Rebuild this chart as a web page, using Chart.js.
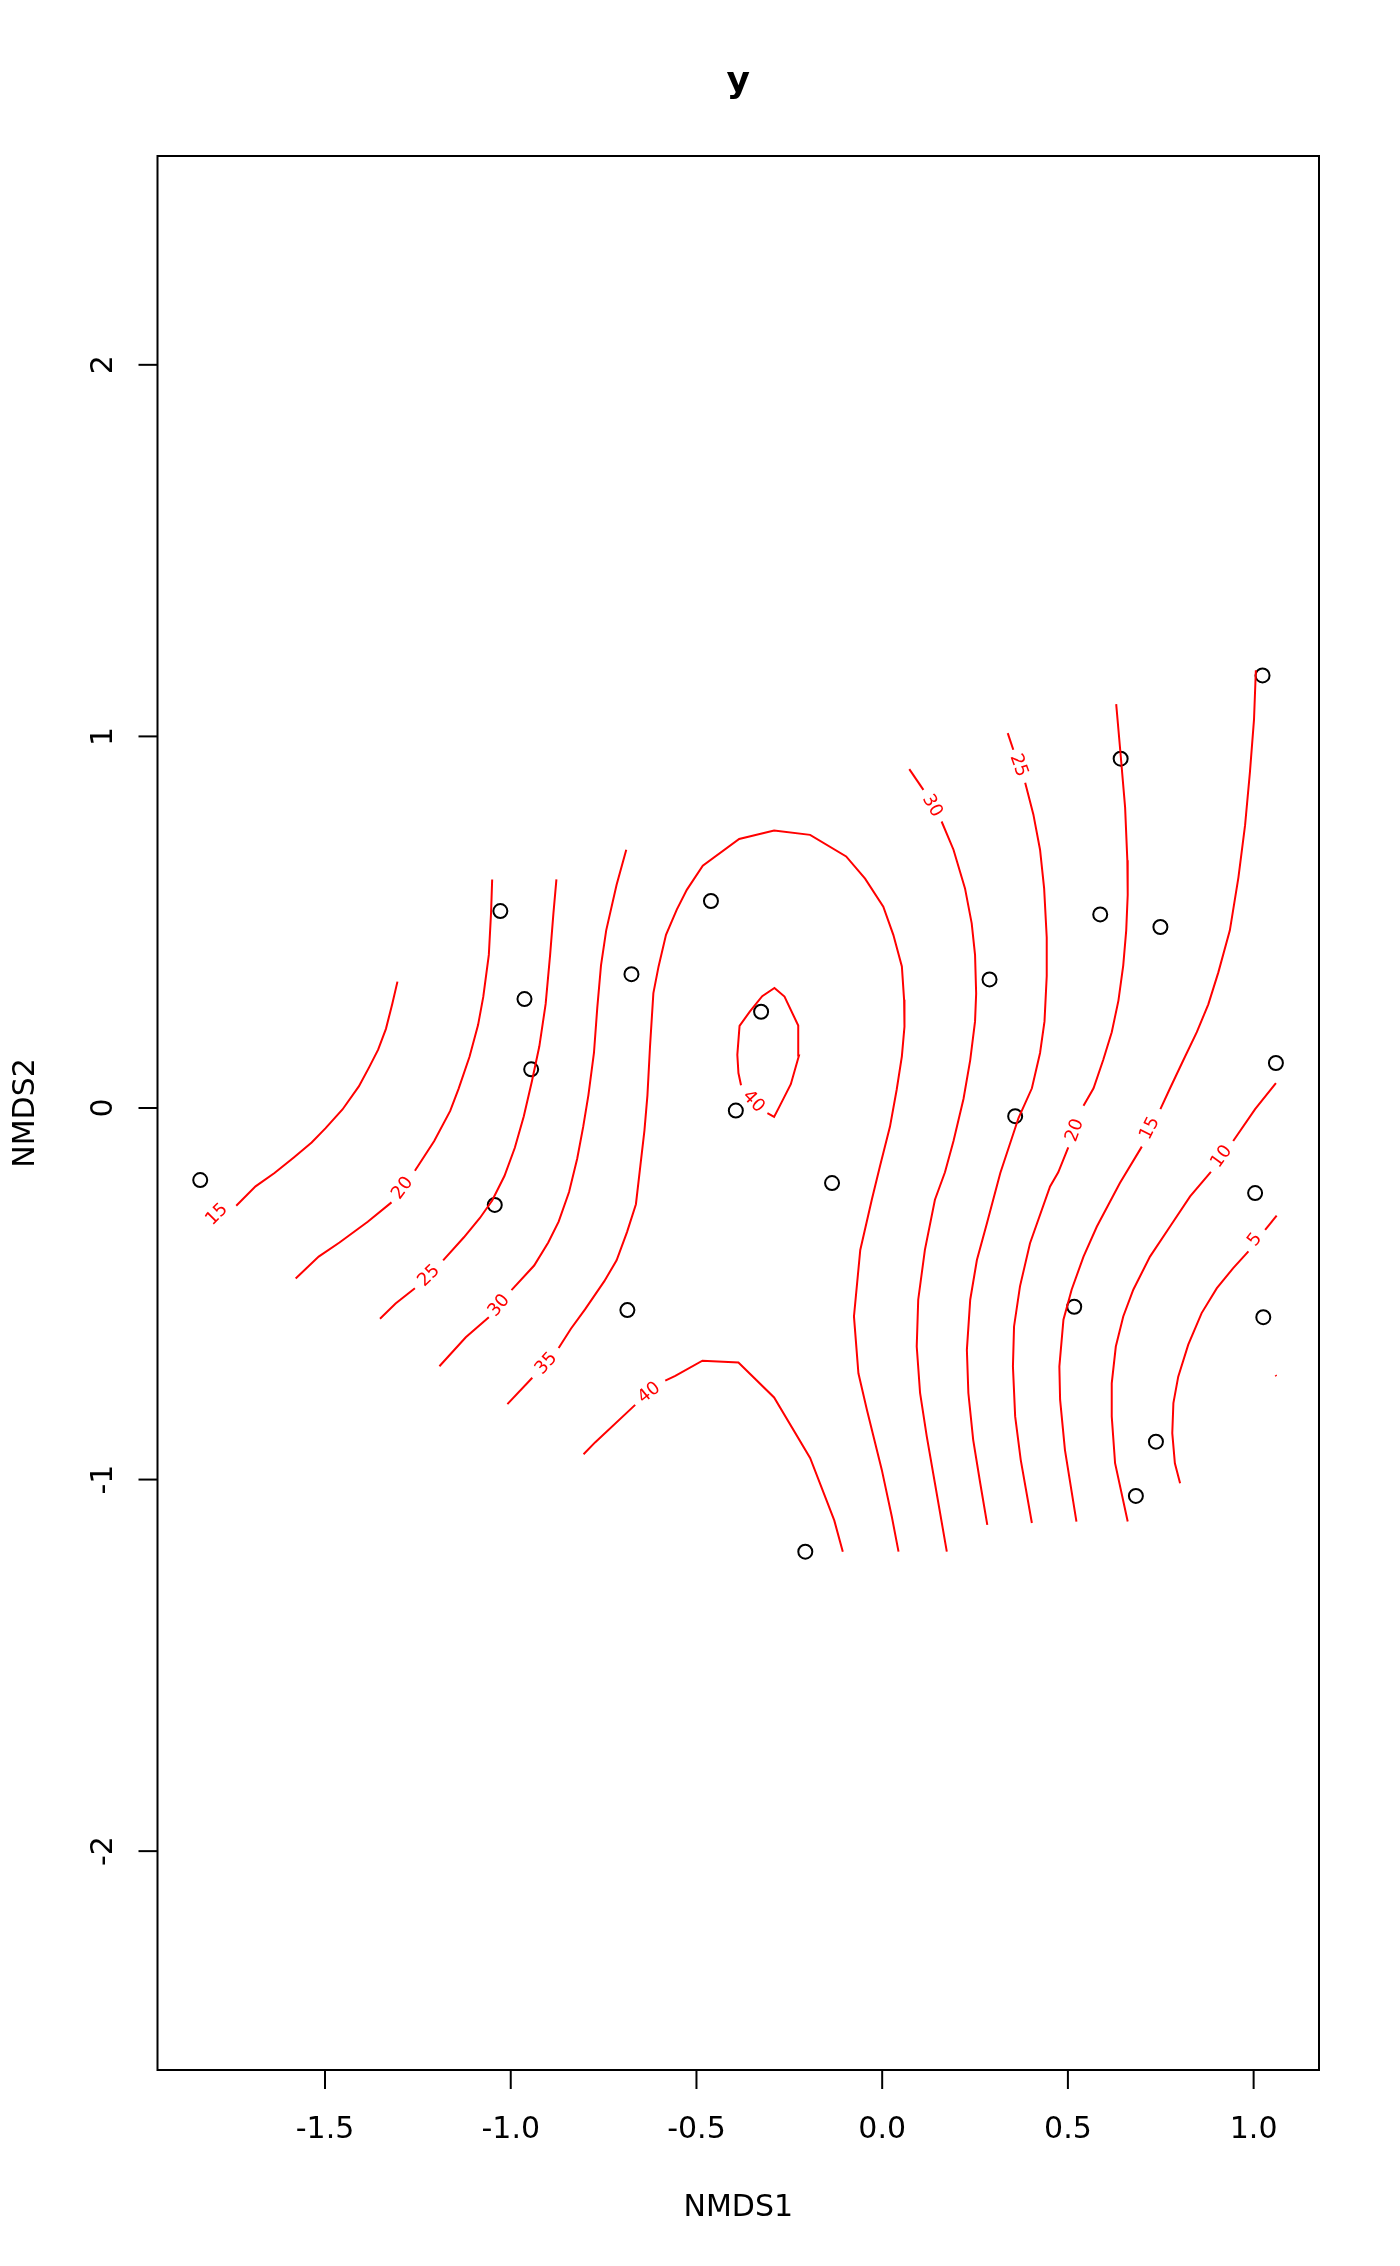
<!DOCTYPE html>
<html>
<head>
<meta charset="utf-8">
<script src="https://cdn.jsdelivr.net/npm/chart.js@4.4.1/dist/chart.umd.min.js"></script>
<style>
  html, body { margin: 0; padding: 0; background: #fff; }
</style>
</head>
<body>
<div style="width:1400px;height:2266px"><canvas id="surf" width="1400" height="2266"></canvas></div>
<script>
// axis ticks
var xTicks = [-1.5, -1.0, -0.5, 0.0, 0.5, 1.0];
var yTicks = [-2, -1, 0, 1, 2];

// site scores (NMDS1, NMDS2)
var siteX = [-1.836, -1.028, -0.963, -0.945, -1.043, -0.675, -0.686, -0.461, -0.326, -0.394, -0.135, -0.207,
             0.289, 0.358, 0.642, 0.587, 0.749, 1.024, 1.060, 1.004, 1.026, 0.517, 0.737, 0.683];
var siteY = [-0.194, 0.530, 0.293, 0.104, -0.261, 0.360, -0.544, 0.557, 0.259, -0.007, -0.202, -1.194,
             0.346, -0.022, 0.940, 0.521, 0.487, 1.164, 0.121, -0.229, -0.563, -0.535, -0.898, -1.044];

// fitted surface contours, null = break where the label sits
var c15W = [[-1.305,0.340],[-1.319,0.280],[-1.336,0.213],[-1.357,0.157],[-1.381,0.110],[-1.409,0.058],
            [-1.453,-0.004],[-1.499,-0.055],[-1.536,-0.093],[-1.584,-0.133],[-1.636,-0.175],[-1.687,-0.211],[-1.739,-0.263]];
var c20W = [[-1.050,0.615],[-1.053,0.525],[-1.059,0.412],[-1.074,0.299],[-1.088,0.223],[-1.111,0.138],
            [-1.140,0.053],[-1.163,-0.008],[-1.206,-0.089],[-1.258,-0.169], null,
            [-1.321,-0.254],[-1.385,-0.306],[-1.461,-0.362],[-1.517,-0.400],[-1.579,-0.459]];
var c25W = [[-0.877,0.615],[-0.885,0.525],[-0.894,0.412],[-0.906,0.280],[-0.923,0.166],[-0.943,0.072],
            [-0.965,-0.023],[-0.989,-0.107],[-1.017,-0.183],[-1.050,-0.249],[-1.083,-0.296],[-1.126,-0.348],[-1.182,-0.410], null,
            [-1.258,-0.485],[-1.310,-0.526],[-1.352,-0.567]];
var c30W = [[-0.689,0.695],[-0.715,0.601],[-0.743,0.478],[-0.757,0.384],[-0.767,0.270],[-0.776,0.148],
            [-0.791,0.034],[-0.805,-0.051],[-0.821,-0.136],[-0.843,-0.226],[-0.871,-0.306],[-0.899,-0.362],
            [-0.937,-0.424],[-0.998,-0.490], null,
            [-1.059,-0.563],[-1.121,-0.617],[-1.192,-0.695]];
var c35 = [[-1.009,-0.797],[-0.942,-0.726], null,
           [-0.871,-0.646],[-0.838,-0.594],[-0.800,-0.542],[-0.748,-0.466],[-0.715,-0.410],[-0.687,-0.334],
           [-0.663,-0.259],[-0.651,-0.155],[-0.640,-0.060],[-0.632,0.034],[-0.625,0.166],[-0.616,0.309],
           [-0.602,0.381],[-0.582,0.466],[-0.553,0.534],[-0.526,0.587],[-0.483,0.652],[-0.385,0.724],
           [-0.291,0.747],[-0.194,0.735],[-0.097,0.677],[-0.046,0.617],[0.003,0.542],[0.030,0.466],
           [0.053,0.381],[0.059,0.291],[0.060,0.219],[0.053,0.139],[0.039,0.049],[0.021,-0.050],
           [-0.006,-0.157],[-0.028,-0.247],[-0.059,-0.382],[-0.076,-0.561],[-0.064,-0.714],[-0.041,-0.813],
           [-0.001,-0.974],[0.026,-1.100],[0.044,-1.194]];
var c40In = [[-0.309,-0.014],[-0.291,-0.024],[-0.275,0.007],[-0.246,0.064],[-0.224,0.141],[-0.226,0.222],
             [-0.263,0.300],[-0.290,0.323],[-0.323,0.301],[-0.356,0.260],[-0.384,0.221],[-0.390,0.143],
             [-0.387,0.094],[-0.380,0.061]];
var c40S = [[-0.804,-0.932],[-0.773,-0.900],[-0.665,-0.799], null,
            [-0.584,-0.734],[-0.557,-0.721],[-0.484,-0.680],[-0.387,-0.685],[-0.291,-0.779],[-0.194,-0.942],
            [-0.129,-1.110],[-0.106,-1.194]];
var c30E = [[0.073,0.912],[0.111,0.856], null,
            [0.160,0.771],[0.192,0.695],[0.223,0.591],[0.241,0.497],[0.250,0.412],[0.253,0.308],[0.250,0.233],
            [0.237,0.129],[0.219,0.025],[0.192,-0.089],[0.169,-0.173],[0.142,-0.247],[0.115,-0.382],
            [0.097,-0.516],[0.093,-0.642],[0.102,-0.767],[0.120,-0.884],[0.142,-1.010],[0.174,-1.194]];
var c25E = [[0.338,1.009],[0.353,0.964], null,
            [0.385,0.875],[0.407,0.790],[0.425,0.695],[0.436,0.591],[0.443,0.459],[0.443,0.355],[0.437,0.233],
            [0.425,0.148],[0.403,0.053],[0.367,-0.027],[0.318,-0.175],[0.282,-0.310],[0.255,-0.409],
            [0.237,-0.516],[0.228,-0.651],[0.232,-0.767],[0.245,-0.893],[0.264,-1.010],[0.283,-1.122]];
var c20E = [[0.630,1.087],[0.642,0.950],[0.654,0.809],[0.660,0.667],[0.661,0.573],[0.657,0.478],[0.649,0.384],
            [0.636,0.289],[0.618,0.204],[0.595,0.129],[0.569,0.053],[0.542,0.006], null,
            [0.501,-0.106],[0.474,-0.173],[0.452,-0.211],[0.398,-0.364],[0.371,-0.480],[0.355,-0.588],
            [0.352,-0.696],[0.358,-0.830],[0.373,-0.947],[0.403,-1.117]];
var c15E = [[1.006,1.178],[1.001,1.045],[0.990,0.903],[0.977,0.761],[0.959,0.620],[0.936,0.478],[0.905,0.365],
            [0.878,0.279],[0.847,0.204],[0.811,0.129],[0.775,0.053],[0.749,-0.003], null,
            [0.699,-0.104],[0.640,-0.202],[0.578,-0.319],[0.542,-0.400],[0.510,-0.489],[0.488,-0.570],
            [0.477,-0.696],[0.479,-0.785],[0.492,-0.920],[0.523,-1.113]];
var c10E = [[1.060,0.067],[1.004,-0.003],[0.945,-0.089], null,
            [0.885,-0.172],[0.829,-0.238],[0.775,-0.319],[0.721,-0.400],[0.676,-0.489],[0.649,-0.561],
            [0.629,-0.642],[0.618,-0.741],[0.618,-0.830],[0.627,-0.956],[0.661,-1.113]];
var c5E = [[1.062,-0.290],[1.031,-0.328], null,
           [0.986,-0.386],[0.945,-0.431],[0.901,-0.485],[0.860,-0.552],[0.824,-0.637],[0.797,-0.723],
           [0.784,-0.794],[0.781,-0.875],[0.788,-0.956],[0.802,-1.010]];
var c5Dot = [[1.059,-0.719],[1.061,-0.722]];

var contourLines = [c15W, c20W, c25W, c30W, c35, c40In, c40S, c30E, c25E, c20E, c15E, c10E, c5E, c5Dot];

// contour labels
var labelText = ['15', '20', '25', '30', '35', '40', '40', '30', '25', '20', '15', '10', '5'];
var labelX = [-1.791, -1.291, -1.220, -1.031, -0.904, -0.347, -0.627, 0.134, 0.367, 0.519, 0.721, 0.914, 1.004];
var labelY = [-0.287, -0.216, -0.452, -0.532, -0.688, 0.017, -0.767, 0.813, 0.922, -0.060, -0.055, -0.131, -0.355];

var FONT = "'DejaVu Sans', 'Liberation Sans', sans-serif";

var datasets = [];
contourLines.forEach(function (line) {
    var piece = [];
    line.concat([null]).forEach(function (p) {
        if (p === null) {
            if (piece.length) {
                datasets.push({
                    data: piece,
                    showLine: true,
                    borderColor: '#ff0000',
                    borderWidth: 2,
                    pointRadius: 0,
                    pointHoverRadius: 0,
                    tension: 0,
                    fill: false
                });
            }
            piece = [];
        } else {
            piece.push({x: p[0], y: p[1]});
        }
    });
});
datasets.push({
    data: siteX.map(function (x, i) { return {x: x, y: siteY[i]}; }),
    showLine: false,
    pointStyle: 'circle',
    pointRadius: 7,
    pointBorderWidth: 2,
    pointBorderColor: '#000000',
    pointBackgroundColor: 'rgba(0,0,0,0)'
});

var contourLabelPlugin = {
    id: 'contourLabels',
    afterDatasetsDraw: function (chart) {
        var ctx = chart.ctx, xs = chart.scales.x, ys = chart.scales.y;
        var verts = [];
        contourLines.forEach(function (line, li) {
            var pi = 0;
            line.forEach(function (p, k) {
                if (p === null) { pi++; return; }
                verts.push({li: li, pi: pi, k: k, px: xs.getPixelForValue(p[0]), py: ys.getPixelForValue(p[1])});
            });
        });
        ctx.save();
        ctx.fillStyle = '#ff0000';
        ctx.font = '18px ' + FONT;
        ctx.textAlign = 'center';
        ctx.textBaseline = 'middle';
        labelText.forEach(function (t, i) {
            var lx = xs.getPixelForValue(labelX[i]), ly = ys.getPixelForValue(labelY[i]);
            var a = null, best = 1e9;
            verts.forEach(function (v) {
                var d = Math.hypot(v.px - lx, v.py - ly);
                if (d < best) { best = d; a = v; }
            });
            var b = null, bestB = 1e9;
            verts.forEach(function (v) {
                if (v.li !== a.li || v === a) return;
                var dot = (v.px - lx) * (a.px - lx) + (v.py - ly) * (a.py - ly);
                var d = Math.hypot(v.px - lx, v.py - ly);
                if (dot < 0 && d < bestB && d < 60) { bestB = d; b = v; }
            });
            if (!b) {
                verts.forEach(function (v) {
                    if (v.li === a.li && v.pi === a.pi && Math.abs(v.k - a.k) === 1) b = v;
                });
            }
            var ang = Math.atan2(b.py - a.py, b.px - a.px);
            if (ang > Math.PI / 2) ang -= Math.PI;
            if (ang <= -Math.PI / 2) ang += Math.PI;
            ctx.save();
            ctx.translate(lx, ly);
            ctx.rotate(ang);
            ctx.fillText(t, 0, 0);
            ctx.restore();
        });
        ctx.restore();
    }
};

var framePlugin = {
    id: 'rFrame',
    afterDraw: function (chart) {
        var ctx = chart.ctx, a = chart.chartArea, xs = chart.scales.x, ys = chart.scales.y;
        ctx.save();
        ctx.strokeStyle = '#000';
        ctx.fillStyle = '#000';
        ctx.lineWidth = 2;
        ctx.strokeRect(a.left, a.top, a.right - a.left, a.bottom - a.top);

        ctx.font = '30px ' + FONT;
        ctx.textAlign = 'center';
        ctx.textBaseline = 'alphabetic';
        xTicks.forEach(function (v) {
            var px = xs.getPixelForValue(v);
            ctx.beginPath();
            ctx.moveTo(px, a.bottom);
            ctx.lineTo(px, a.bottom + 19);
            ctx.stroke();
            ctx.fillText(v.toFixed(1), px, a.bottom + 68);
        });
        yTicks.forEach(function (v) {
            var py = ys.getPixelForValue(v);
            ctx.beginPath();
            ctx.moveTo(a.left, py);
            ctx.lineTo(a.left - 19, py);
            ctx.stroke();
            ctx.save();
            ctx.translate(a.left - 46, py);
            ctx.rotate(-Math.PI / 2);
            ctx.fillText(String(v), 0, 0);
            ctx.restore();
        });

        var cx = (a.left + a.right) / 2, cy = (a.top + a.bottom) / 2;
        ctx.fillText('NMDS1', cx, a.bottom + 146);
        ctx.save();
        ctx.translate(33.5, cy);
        ctx.rotate(-Math.PI / 2);
        ctx.fillText('NMDS2', 0, 0);
        ctx.restore();

        ctx.font = 'bold 36px ' + FONT;
        ctx.fillText('y', cx, 92);
        ctx.restore();
    }
};

new Chart(document.getElementById('surf').getContext('2d'), {
    type: 'scatter',
    data: { datasets: datasets },
    options: {
        responsive: false,
        animation: false,
        events: [],
        layout: { padding: { left: 157.5, top: 156, right: 81, bottom: 196 } },
        plugins: { legend: { display: false }, tooltip: { enabled: false } },
        scales: {
            x: { type: 'linear', min: -1.951, max: 1.176, display: false },
            y: { type: 'linear', min: -2.589, max: 2.562, display: false }
        }
    },
    plugins: [contourLabelPlugin, framePlugin]
});
</script>
</body>
</html>
